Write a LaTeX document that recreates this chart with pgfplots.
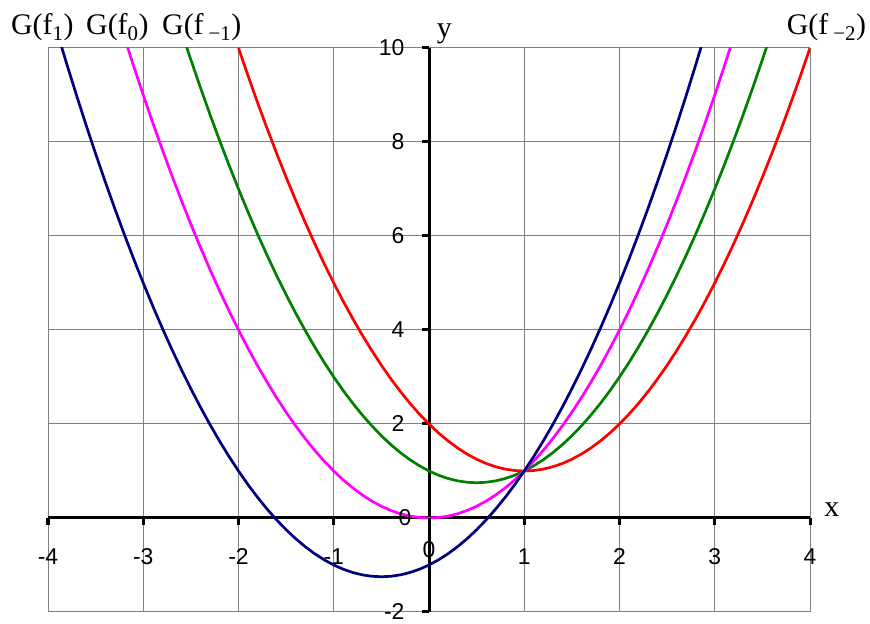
\documentclass[border=0pt]{standalone}
\usepackage{fontspec}
\setmainfont{Liberation Serif}
\newfontfamily\arial{Liberation Sans}
\usepackage{pgfplots}
\usepackage{pgfplotstable}
\pgfplotsset{compat=1.18}

% G(f_1): tabulated at step 0.1
\pgfplotstableread{
x y
-3.9 10.31
-3.8 9.64
-3.7 8.99
-3.6 8.36
-3.5 7.75
-3.4 7.16
-3.3 6.59
-3.2 6.04
-3.1 5.51
-3.0 5.00
-2.9 4.51
-2.8 4.04
-2.7 3.59
-2.6 3.16
-2.5 2.75
-2.4 2.36
-2.3 1.99
-2.2 1.64
-2.1 1.31
-2.0 1.00
-1.9 0.71
-1.8 0.44
-1.7 0.19
-1.6 -0.04
-1.5 -0.25
-1.4 -0.44
-1.3 -0.61
-1.2 -0.76
-1.1 -0.89
-1.0 -1.00
-0.9 -1.09
-0.8 -1.16
-0.7 -1.21
-0.6 -1.24
-0.5 -1.25
-0.4 -1.24
-0.3 -1.21
-0.2 -1.16
-0.1 -1.09
0.0 -1.00
0.1 -0.89
0.2 -0.76
0.3 -0.61
0.4 -0.44
0.5 -0.25
0.6 -0.04
0.7 0.19
0.8 0.44
0.9 0.71
1.0 1.00
1.1 1.31
1.2 1.64
1.3 1.99
1.4 2.36
1.5 2.75
1.6 3.16
1.7 3.59
1.8 4.04
1.9 4.51
2.0 5.00
2.1 5.51
2.2 6.04
2.3 6.59
2.4 7.16
2.5 7.75
2.6 8.36
2.7 8.99
2.8 9.64
2.9 10.31
}\fone

% G(f_0)
\pgfplotstableread{
x y
-3.2 10.24
-3.1 9.61
-3.0 9.00
-2.9 8.41
-2.8 7.84
-2.7 7.29
-2.6 6.76
-2.5 6.25
-2.4 5.76
-2.3 5.29
-2.2 4.84
-2.1 4.41
-2.0 4.00
-1.9 3.61
-1.8 3.24
-1.7 2.89
-1.6 2.56
-1.5 2.25
-1.4 1.96
-1.3 1.69
-1.2 1.44
-1.1 1.21
-1.0 1.00
-0.9 0.81
-0.8 0.64
-0.7 0.49
-0.6 0.36
-0.5 0.25
-0.4 0.16
-0.3 0.09
-0.2 0.04
-0.1 0.01
0.0 0.00
0.1 0.01
0.2 0.04
0.3 0.09
0.4 0.16
0.5 0.25
0.6 0.36
0.7 0.49
0.8 0.64
0.9 0.81
1.0 1.00
1.1 1.21
1.2 1.44
1.3 1.69
1.4 1.96
1.5 2.25
1.6 2.56
1.7 2.89
1.8 3.24
1.9 3.61
2.0 4.00
2.1 4.41
2.2 4.84
2.3 5.29
2.4 5.76
2.5 6.25
2.6 6.76
2.7 7.29
2.8 7.84
2.9 8.41
3.0 9.00
3.1 9.61
3.2 10.24
}\fzero

% G(f_{-1})
\pgfplotstableread{
x y
-2.6 10.36
-2.5 9.75
-2.4 9.16
-2.3 8.59
-2.2 8.04
-2.1 7.51
-2.0 7.00
-1.9 6.51
-1.8 6.04
-1.7 5.59
-1.6 5.16
-1.5 4.75
-1.4 4.36
-1.3 3.99
-1.2 3.64
-1.1 3.31
-1.0 3.00
-0.9 2.71
-0.8 2.44
-0.7 2.19
-0.6 1.96
-0.5 1.75
-0.4 1.56
-0.3 1.39
-0.2 1.24
-0.1 1.11
0.0 1.00
0.1 0.91
0.2 0.84
0.3 0.79
0.4 0.76
0.5 0.75
0.6 0.76
0.7 0.79
0.8 0.84
0.9 0.91
1.0 1.00
1.1 1.11
1.2 1.24
1.3 1.39
1.4 1.56
1.5 1.75
1.6 1.96
1.7 2.19
1.8 2.44
1.9 2.71
2.0 3.00
2.1 3.31
2.2 3.64
2.3 3.99
2.4 4.36
2.5 4.75
2.6 5.16
2.7 5.59
2.8 6.04
2.9 6.51
3.0 7.00
3.1 7.51
3.2 8.04
3.3 8.59
3.4 9.16
3.5 9.75
3.6 10.36
}\fmone

% G(f_{-2})
\pgfplotstableread{
x y
-2.0 10.00
-1.9 9.41
-1.8 8.84
-1.7 8.29
-1.6 7.76
-1.5 7.25
-1.4 6.76
-1.3 6.29
-1.2 5.84
-1.1 5.41
-1.0 5.00
-0.9 4.61
-0.8 4.24
-0.7 3.89
-0.6 3.56
-0.5 3.25
-0.4 2.96
-0.3 2.69
-0.2 2.44
-0.1 2.21
0.0 2.00
0.1 1.81
0.2 1.64
0.3 1.49
0.4 1.36
0.5 1.25
0.6 1.16
0.7 1.09
0.8 1.04
0.9 1.01
1.0 1.00
1.1 1.01
1.2 1.04
1.3 1.09
1.4 1.16
1.5 1.25
1.6 1.36
1.7 1.49
1.8 1.64
1.9 1.81
2.0 2.00
2.1 2.21
2.2 2.44
2.3 2.69
2.4 2.96
2.5 3.25
2.6 3.56
2.7 3.89
2.8 4.24
2.9 4.61
3.0 5.00
3.1 5.41
3.2 5.84
3.3 6.29
3.4 6.76
3.5 7.25
3.6 7.76
3.7 8.29
3.8 8.84
3.9 9.41
4.0 10.00
}\fmtwo

\definecolor{cnavy}{RGB}{0,0,128}
\definecolor{cmag}{RGB}{255,0,255}
\definecolor{cgreen}{RGB}{0,128,0}
\definecolor{cred}{RGB}{255,0,0}
\definecolor{cgrid}{RGB}{128,128,128}

\tikzset{
  numlabel/.style={font=\arial\fontsize{23}{25}\selectfont},
  curvelabel/.style={anchor=base west, inner sep=0pt, font=\fontsize{30}{32}\selectfont},
}

\begin{document}
\begin{tikzpicture}
\begin{axis}[
  width=762bp, height=564bp, scale only axis,
  xmin=-4, xmax=4, ymin=-2, ymax=10,
  enlargelimits=false,
  axis lines=middle,
  axis line style={line width=3bp, black, -},
  every inner x axis line/.append style={-},
  every inner y axis line/.append style={-},
  xtick={-4,-3,...,4},
  ytick={-2,0,2,4,6,8,10},
  grid=major,
  major grid style={cgrid, line width=1bp},
  tick align=outside,
  major tick length=7bp,
  tick style={black, line width=3bp},
  ticklabel style={numlabel},
  /pgf/number format/assume math mode=true,
  xticklabel style={anchor=north, yshift=-20bp},
  yticklabel style={anchor=east, xshift=-14bp},
  clip mode=individual,
  every axis plot/.append style={line width=2.7bp, line join=round},
]
\addplot[cred, no markers] table[x=x, y=y] {\fmtwo};
\addplot[cgreen, no markers] table[x=x, y=y] {\fmone};
\addplot[cmag, no markers] table[x=x, y=y] {\fzero};
\addplot[cnavy, no markers] table[x=x, y=y] {\fone};

% zero labels at the crossing of the axes
\node[numlabel, anchor=north, yshift=-20bp] at (axis cs:0,0) {0};
\node[numlabel, anchor=east, xshift=-14bp] at (axis cs:0,0) {0};
\draw[black, line width=3bp] (axis cs:0,0) -- ([yshift=-7bp]axis cs:0,0);

\node[curvelabel] at (axis cs:0.08,10.23) {y};
\node[curvelabel] at (axis cs:4.15,0.04) {x};
\node[curvelabel] at (axis cs:-4.389,10.28) {G(f\textsubscript{1})};
\node[curvelabel] at (axis cs:-3.601,10.28) {G(f\textsubscript{0})};
\node[curvelabel] at (axis cs:-2.803,10.28) {G(f\,\textsubscript{−1})};
\node[curvelabel, anchor=base east] at (axis cs:4.59,10.28) {G(f\,\textsubscript{−2})};

\coordinate (bl) at (rel axis cs:0,0);
\coordinate (tr) at (rel axis cs:1,1);
\end{axis}
\path ([shift={(-48bp,-9bp)}]bl) rectangle ([shift={(60bp,48bp)}]tr);
\end{tikzpicture}
\end{document}
